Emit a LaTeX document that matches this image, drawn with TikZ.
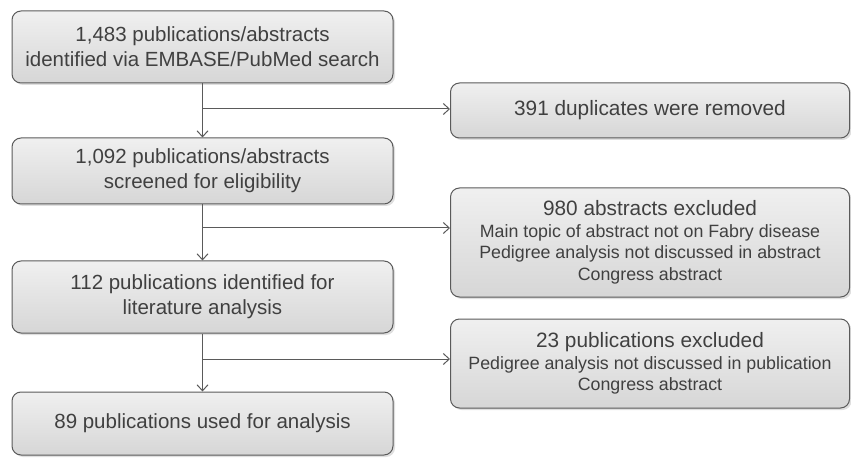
\documentclass[tikz,border=0pt]{standalone}
\usepackage{fontspec}
\setmainfont{Liberation Sans}
\usetikzlibrary{arrows.meta,shadows}
\definecolor{txt}{HTML}{404040}
\definecolor{edge}{HTML}{5A5A5A}
\tikzset{
  box/.style={draw=edge, line width=1pt, rounded corners=9pt, top color=gray!12, bottom color=gray!32,
    drop shadow={shadow xshift=2pt, shadow yshift=-2pt, opacity=0.25}, text=txt, align=center, inner sep=0pt},
  mainbox/.style={box, minimum width=381pt, font=\fontsize{20.5}{25}\selectfont},
  sidebox/.style={box, minimum width=399pt, font=\fontsize{17.8}{21.5}\selectfont},
  conn/.style={draw=edge, line width=1pt, -{Straight Barb[length=6pt,width=11pt,line width=1pt]}},
}
\newcommand{\headtxt}[1]{{\fontsize{20.8}{23}\selectfont #1}}
\begin{document}
\begin{tikzpicture}[x=1pt,y=-1pt]
\useasboundingbox (0,0) rectangle (851,462);
\node[mainbox, minimum height=72pt] (b1) at (202.5,47) {1,483 publications/abstracts\\identified via EMBASE/PubMed search};
\node[mainbox, minimum height=66pt] (b2) at (202.5,171) {1,092 publications/abstracts\\screened for eligibility};
\node[mainbox, minimum height=72pt] (b3) at (202.5,297) {112 publications identified for\\literature analysis};
\node[mainbox, minimum height=63pt] (b4) at (202.5,423.5) {89 publications used for analysis};
\node[sidebox, minimum height=55pt, font=\fontsize{20.8}{25}\selectfont] (r1) at (650,110.5) {391 duplicates were removed};
\node[sidebox, minimum height=109pt] (r2) at (650,242.5) {\headtxt{980 abstracts excluded}\\Main topic of abstract not on Fabry disease\\Pedigree analysis not discussed in abstract\\Congress abstract};
\node[sidebox, minimum height=89pt] (r3) at (650,363.5) {\headtxt{23 publications excluded}\\Pedigree analysis not discussed in publication\\Congress abstract};
\coordinate (j1) at (202.5,109);
\coordinate (j2) at (202.5,228);
\coordinate (j3) at (202.5,359);
\draw[conn] (b1.south) -- (b2.north);
\draw[conn] (b2.south) -- (b3.north);
\draw[conn] (b3.south) -- (b4.north);
\draw[conn] (j1) -- (j1 -| r1.west);
\draw[conn] (j2) -- (j2 -| r2.west);
\draw[conn] (j3) -- (j3 -| r3.west);
\end{tikzpicture}
\end{document}
